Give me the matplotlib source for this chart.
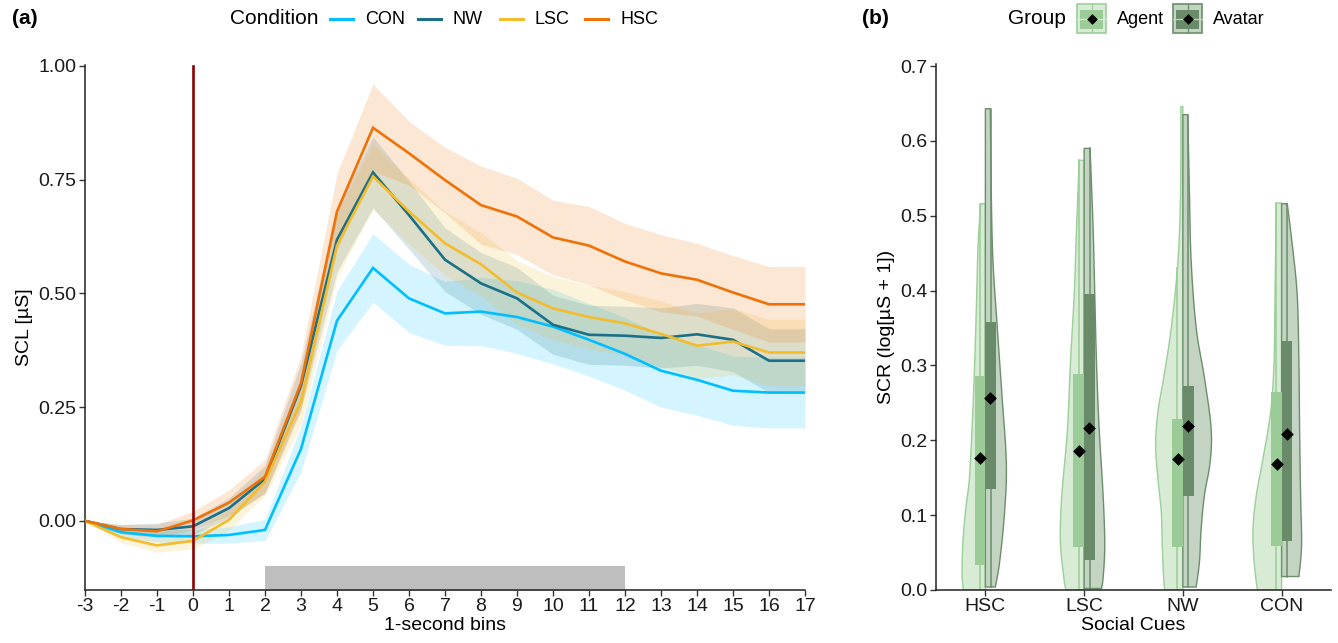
import numpy as np
import matplotlib
matplotlib.use("Agg")
import matplotlib.pyplot as plt
from matplotlib.patches import Rectangle, Polygon
from matplotlib.lines import Line2D

plt.rcParams['font.family'] = ['Liberation Sans', 'DejaVu Sans']

# ---------------- data: panel (a) ----------------
bins = list(range(-3, 18))
conditions = ["CON", "NW", "LSC", "HSC"]
cond_colors = ["#00BFFF", "#1B6F87", "#F2BC2C", "#EE7207"]

con_mean = [0, -0.025, -0.033, -0.034, -0.031, -0.020, 0.158, 0.440, 0.556, 0.489, 0.456,
            0.460, 0.448, 0.427, 0.398, 0.367, 0.330, 0.310, 0.286, 0.282, 0.282]
con_ci = [0, 0.010, 0.013, 0.015, 0.018, 0.023, 0.050, 0.065, 0.075, 0.075, 0.070,
          0.075, 0.080, 0.082, 0.080, 0.080, 0.080, 0.078, 0.076, 0.078, 0.078]
nw_mean = [0, -0.018, -0.020, -0.012, 0.028, 0.092, 0.297, 0.618, 0.766, 0.672, 0.574,
           0.522, 0.489, 0.431, 0.409, 0.407, 0.402, 0.410, 0.398, 0.352, 0.352]
nw_ci = [0, 0.010, 0.015, 0.018, 0.022, 0.030, 0.050, 0.070, 0.078, 0.075, 0.070,
         0.068, 0.068, 0.065, 0.065, 0.065, 0.066, 0.068, 0.070, 0.070, 0.070]
lsc_mean = [0, -0.036, -0.054, -0.044, 0.002, 0.086, 0.262, 0.605, 0.757, 0.680, 0.610,
            0.564, 0.502, 0.467, 0.448, 0.434, 0.411, 0.385, 0.394, 0.370, 0.370]
lsc_ci = [0, 0.012, 0.015, 0.018, 0.022, 0.030, 0.050, 0.070, 0.072, 0.072, 0.070,
          0.070, 0.070, 0.070, 0.070, 0.070, 0.072, 0.072, 0.073, 0.073, 0.073]
hsc_mean = [0, -0.018, -0.023, 0.001, 0.040, 0.097, 0.303, 0.680, 0.864, 0.808, 0.749,
            0.694, 0.669, 0.623, 0.605, 0.570, 0.544, 0.530, 0.502, 0.476, 0.476]
hsc_ci = [0, 0.010, 0.015, 0.020, 0.028, 0.037, 0.060, 0.084, 0.096, 0.070, 0.072,
          0.086, 0.084, 0.082, 0.086, 0.084, 0.085, 0.080, 0.081, 0.083, 0.083]

stim_start, stim_end = 2, 12
onset = 0

# ---------------- data: panel (b) ----------------
cues = ["HSC", "LSC", "NW", "CON"]
groups = ["Agent", "Avatar"]

agent_q1 = [0.033, 0.057, 0.057, 0.059]
agent_q3 = [0.286, 0.289, 0.228, 0.264]
agent_mean = [0.177, 0.186, 0.175, 0.168]
agent_whi = [0.516, 0.574, 0.430, 0.517]
agent_wlo = [0.0, 0.0, 0.0, 0.0]

avatar_q1 = [0.135, 0.040, 0.125, 0.066]
avatar_q3 = [0.358, 0.396, 0.272, 0.333]
avatar_mean = [0.257, 0.217, 0.219, 0.208]
avatar_whi = [0.643, 0.590, 0.635, 0.516]
avatar_wlo = [0.004, 0.002, 0.004, 0.018]

# violin outlines (value levels, half-widths)
hsc_agent_y = [0.516, 0.461, 0.394, 0.305, 0.216, 0.149, 0.105, 0.060, 0.020, 0.0]
hsc_agent_w = [0.047, 0.074, 0.088, 0.108, 0.135, 0.162, 0.202, 0.229, 0.236, 0.222]
hsc_avatar_y = [0.643, 0.528, 0.439, 0.350, 0.260, 0.171, 0.105, 0.038, 0.004]
hsc_avatar_w = [0.050, 0.060, 0.077, 0.121, 0.168, 0.212, 0.195, 0.145, 0.101]
lsc_agent_y = [0.574, 0.483, 0.394, 0.305, 0.216, 0.149, 0.105, 0.060, 0.016, 0.0]
lsc_agent_w = [0.050, 0.077, 0.101, 0.138, 0.168, 0.212, 0.236, 0.239, 0.205, 0.185]
lsc_avatar_y = [0.590, 0.483, 0.394, 0.305, 0.216, 0.127, 0.060, 0.016, 0.002]
lsc_avatar_w = [0.060, 0.091, 0.108, 0.125, 0.152, 0.192, 0.209, 0.192, 0.175]
nw_agent_y = [0.646, 0.528, 0.439, 0.350, 0.283, 0.238, 0.194, 0.149, 0.105, 0.060, 0.016, 0.0]
nw_agent_w = [0.020, 0.024, 0.050, 0.118, 0.195, 0.253, 0.276, 0.253, 0.219, 0.209, 0.195, 0.185]
nw_avatar_y = [0.635, 0.528, 0.439, 0.350, 0.283, 0.216, 0.171, 0.127, 0.082, 0.038, 0.004]
nw_avatar_w = [0.050, 0.067, 0.084, 0.135, 0.219, 0.286, 0.276, 0.219, 0.185, 0.168, 0.135]
con_agent_y = [0.517, 0.394, 0.305, 0.238, 0.171, 0.127, 0.082, 0.038, 0.0]
con_agent_w = [0.054, 0.067, 0.077, 0.111, 0.195, 0.256, 0.290, 0.279, 0.246]
con_avatar_y = [0.516, 0.461, 0.394, 0.305, 0.216, 0.127, 0.060, 0.018]
con_avatar_w = [0.057, 0.108, 0.158, 0.175, 0.182, 0.192, 0.202, 0.175]

agent_profiles = [(hsc_agent_y, hsc_agent_w), (lsc_agent_y, lsc_agent_w),
                  (nw_agent_y, nw_agent_w), (con_agent_y, con_agent_w)]
avatar_profiles = [(hsc_avatar_y, hsc_avatar_w), (lsc_avatar_y, lsc_avatar_w),
                   (nw_avatar_y, nw_avatar_w), (con_avatar_y, con_avatar_w)]

# ---------------- styling ----------------
agent_vfill, agent_vedge, agent_box = "#D7EBD5", "#9CCF99", "#9BCB97"
avatar_vfill, avatar_vedge, avatar_box = "#C3D4C3", "#6B8E6B", "#6A8B69"

W, H = 1338, 643
fig = plt.figure(figsize=(W / 100, H / 100), dpi=100)


def fax(x0, y0, x1, y1):
    return fig.add_axes([x0 / W, 1 - y1 / H, (x1 - x0) / W, (y1 - y0) / H])


def smooth_outline(yv, wv, n=12):
    """Catmull-Rom curve through the read outline points (rendering only)."""
    P = np.column_stack([wv, yv]).astype(float)
    P = np.vstack([P[0], P, P[-1]])
    out = []
    t = np.linspace(0, 1, n, endpoint=False)[:, None]
    for i in range(1, len(P) - 2):
        p0, p1, p2, p3 = P[i - 1], P[i], P[i + 1], P[i + 2]
        seg = 0.5 * ((2 * p1) + (-p0 + p2) * t + (2 * p0 - 5 * p1 + 4 * p2 - p3) * t ** 2
                     + (-p0 + 3 * p1 - 3 * p2 + p3) * t ** 3)
        out.append(seg)
    out.append(P[-2][None, :])
    out = np.vstack(out)
    return out[:, 1], np.clip(out[:, 0], 0, None)


TICK_FS = 14
LAB_FS = 14

# ---------------- panel (a) ----------------
ax1 = fax(85, 65, 805, 590)
means = [con_mean, nw_mean, lsc_mean, hsc_mean]
cis = [con_ci, nw_ci, lsc_ci, hsc_ci]
x = np.array(bins)
for m, c, col in zip(means, cis, cond_colors):
    m = np.array(m); c = np.array(c)
    ax1.fill_between(x, m - c, m + c, color=col, alpha=0.17, lw=0)
for m, col in zip(means, cond_colors):
    ax1.plot(x, m, color=col, lw=1.9, solid_joinstyle='miter', zorder=3)

ax1.fill_between([stim_start, stim_end], -0.16, -0.099, color="#BEBEBE", lw=0, zorder=2)
ax1.plot([onset, onset], [-0.16, 1.0], color="#8B0000", lw=1.9, zorder=4)

ax1.set_xlim(-3, 17)
ax1.set_ylim(-0.152, 1.002)
ax1.set_xticks(bins)
ax1.set_xticklabels([str(b) for b in bins])
ax1.set_yticks([0, 0.25, 0.5, 0.75, 1.0])
ax1.set_yticklabels(["0.00", "0.25", "0.50", "0.75", "1.00"])
ax1.set_xlabel("1-second bins", fontsize=LAB_FS, labelpad=1)
ax1.set_ylabel("SCL [µS]", fontsize=LAB_FS, labelpad=4)

# ---------------- panel (b) ----------------
ax2 = fax(936, 64, 1331, 590)
pos = np.arange(1, len(cues) + 1)
bw = 0.11
for i, p in enumerate(pos):
    yv, wv = smooth_outline(*agent_profiles[i])
    pts = [(p - w, y) for y, w in zip(yv, wv)] + [(p, yv[-1]), (p, yv[0])]
    ax2.add_patch(Polygon(pts, closed=True, facecolor=agent_vfill, edgecolor=agent_vedge, lw=1.0, zorder=1))
    yv, wv = smooth_outline(*avatar_profiles[i])
    pts = [(p + w, y) for y, w in zip(yv, wv)] + [(p, yv[-1]), (p, yv[0])]
    ax2.add_patch(Polygon(pts, closed=True, facecolor=avatar_vfill, edgecolor=avatar_vedge, lw=1.0, zorder=1))

for i, p in enumerate(pos):
    xa = p - 0.055
    xv = p + 0.055
    ax2.plot([xa, xa], [agent_wlo[i], agent_whi[i]], color=agent_box, lw=1.1, zorder=2)
    ax2.plot([xv, xv], [avatar_wlo[i], avatar_whi[i]], color=avatar_vedge, lw=1.1, zorder=2)
    ax2.add_patch(Rectangle((xa - bw / 2, agent_q1[i]), bw, agent_q3[i] - agent_q1[i],
                            facecolor=agent_box, edgecolor='none', zorder=3))
    ax2.add_patch(Rectangle((xv - bw / 2, avatar_q1[i]), bw, avatar_q3[i] - avatar_q1[i],
                            facecolor=avatar_box, edgecolor='none', zorder=3))
ax2.scatter(pos - 0.05, agent_mean, marker='D', s=42, color='black', zorder=5, lw=0)
ax2.scatter(pos + 0.05, avatar_mean, marker='D', s=42, color='black', zorder=5, lw=0)

ax2.set_xlim(0.5, 4.5)
ax2.set_ylim(0, 0.7027)
ax2.set_xticks(pos)
ax2.set_xticklabels(cues)
ax2.set_yticks(np.arange(0, 0.71, 0.1))
ax2.set_yticklabels([f"{v:.1f}" for v in np.arange(0, 0.71, 0.1)])
ax2.set_xlabel("Social Cues", fontsize=LAB_FS, labelpad=1)
ax2.set_ylabel("SCR (log[µS + 1])", fontsize=LAB_FS, labelpad=4)

for ax in (ax1, ax2):
    for s in ("top", "right"):
        ax.spines[s].set_visible(False)
    for s in ("left", "bottom"):
        ax.spines[s].set_linewidth(1.1)
        ax.spines[s].set_color("#222222")
    ax.tick_params(labelsize=TICK_FS, length=4, width=1.0, color="#333333",
                   labelcolor="#1a1a1a", pad=2)

# ---------------- panel labels ----------------
fig.text(12 / W, 1 - 19 / H, "(a)", fontsize=15, fontweight='bold', va='center', ha='left')
fig.text(862 / W, 1 - 19 / H, "(b)", fontsize=15, fontweight='bold', va='center', ha='left')

# ---------------- legend (a) ----------------
fig.text(230 / W, 1 - 19 / H, "Condition", fontsize=15, va='center', ha='left')
key_x = [330, 418, 500, 585]
for kx, name, col in zip(key_x, conditions, cond_colors):
    fig.add_artist(Line2D([kx / W, (kx + 23) / W], [1 - 19 / H, 1 - 19 / H],
                          transform=fig.transFigure, color=col, lw=2.2))
    fig.text((kx + 35) / W, 1 - 19 / H, name, fontsize=13, va='center', ha='left')

# ---------------- legend (b) ----------------
fig.text(1008 / W, 1 - 19 / H, "Group", fontsize=15, va='center', ha='left')
for kx, name, vf, ve, bc in [(1076, "Agent", agent_vfill, agent_vedge, agent_box),
                             (1172, "Avatar", avatar_vfill, avatar_vedge, avatar_box)]:
    kax = fax(kx, 3, kx + 31, 34)
    kax.set_xlim(0, 1); kax.set_ylim(0, 1); kax.axis('off')
    kax.add_patch(Rectangle((0.02, 0.02), 0.96, 0.96, facecolor=vf, edgecolor=ve, lw=1.2))
    kax.add_patch(Rectangle((0.14, 0.17), 0.72, 0.62, facecolor=bc, edgecolor='none'))
    kax.plot([0.5, 0.5], [0.02, 0.98], color=ve, lw=0.9)
    kax.plot([0.02, 0.98], [0.48, 0.48], color=vf, lw=0.9)
    kax.scatter([0.5], [0.5], marker='D', s=30, color='black', lw=0, zorder=5)
    fig.text((kx + 41) / W, 1 - 19 / H, name, fontsize=13, va='center', ha='left')

fig.savefig("out.png", dpi=100)
